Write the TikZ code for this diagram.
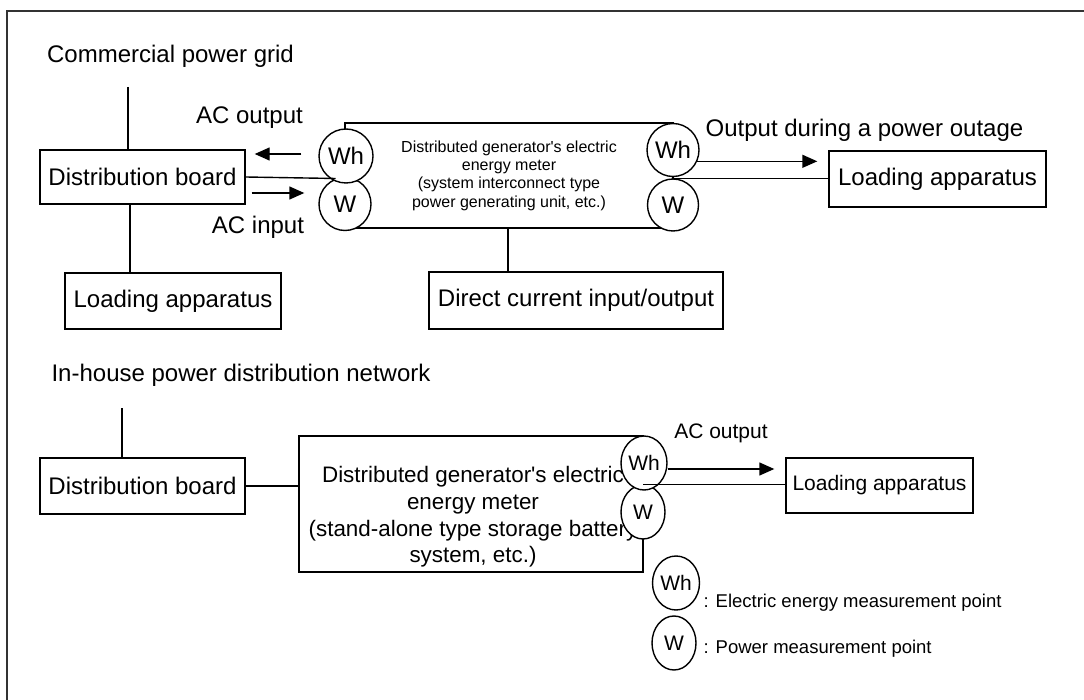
\documentclass[tikz,border=0pt]{standalone}
\usepackage{fontspec}
\setmainfont{Liberation Sans}
\usetikzlibrary{arrows.meta, shapes.geometric}
\newcommand{\fbig}{\fontsize{24}{26.7}\selectfont}
\newcommand{\fmid}{\fontsize{21}{24}\selectfont}
\newcommand{\fmeter}{\fontsize{22.4}{26.7}\selectfont}
\newcommand{\fleg}{\fontsize{18.5}{22}\selectfont}
\newcommand{\fsmall}{\fontsize{16}{18.3}\selectfont}

\tikzset{
  box/.style={draw, rectangle, inner sep=0pt, font=\fbig},
  mpoint/.style={draw, ellipse, fill=white, inner sep=0pt,
    minimum width=54pt, minimum height=54pt, font=\fbig},
  mpointsm/.style={mpoint, minimum width=46pt, font=\fmid},
  arr/.style={-{Triangle[length=15pt, width=13pt]}},
}

\begin{document}
\begin{tikzpicture}[x=1pt, y=-1pt, line width=1.4pt]

  \useasboundingbox (0,0) rectangle (1084,700);
  \draw[black!80, line width=2pt] (7,700) -- (7,11) -- (1084,11);

  % system interconnect type
  \node[font=\fbig] (grid) at (170.5,56) {Commercial power grid};
  \coordinate (gridend) at (128,87);
  \node[box, minimum width=205pt, minimum height=54pt] (board1) at (142.5,177) {Distribution board};
  \node[box, minimum width=216pt, minimum height=56pt] (load1) at (173,301) {Loading apparatus};
  \node[box, minimum width=328pt, minimum height=105pt, align=center, font=\fsmall] (meter1) at (509,175.5)
    {Distributed generator\textquotesingle s electric\\energy meter\\(system interconnect type\\power generating unit, etc.)};
  \node[mpoint, minimum width=52pt, minimum height=53pt] (wL) at (345,204) {W};
  \node[mpoint] (whL) at (346,156) {Wh};
  \node[mpoint, minimum width=51pt, minimum height=52pt] (wR) at (673,205) {W};
  \node[mpoint, minimum width=52pt, minimum height=53pt] (whR) at (673,150) {Wh};
  \node[box, minimum width=217pt, minimum height=56pt] (load2) at (937.5,179) {Loading apparatus};
  \node[box, minimum width=294pt, minimum height=57pt] (dc) at (576,300.5) {Direct current input/output};

  \node[font=\fbig] (acout1) at (249.5,118) {AC output};
  \node[font=\fbig] (acin1) at (258,227) {AC input};
  \node[font=\fbig, anchor=west, inner sep=0pt] (outage) at (705,130) {Output during a power outage};

  \draw (gridend) -- (gridend |- board1.north);
  \draw ([xshift=-12.5pt]board1.south) -- ([xshift=-12.5pt]board1.south |- load1.north);
  \draw (board1.east) -- (wL.110);
  \draw[arr] ([xshift=-17pt, yshift=2pt]whL.west) -- ([xshift=9pt, yshift=2pt]board1.east |- whL.west);
  \draw[arr] ([xshift=6pt, yshift=-16pt]board1.east) -- ([xshift=-14pt, yshift=-16pt]board1.east -| wL.west);
  \draw[arr] (whR.-25) -- ([xshift=-11pt]load2.west |- whR.-25);
  \draw (wR.north) -- (wR.north -| load2.west);
  \draw ([xshift=-1pt]meter1.south) -- ([xshift=-1pt]meter1.south |- dc.north);

  % stand-alone type
  \node[font=\fbig] (house) at (241,375) {In-house power distribution network};
  \coordinate (houseend) at (122,408);
  \node[box, minimum width=205pt, minimum height=56pt] (board2) at (142.5,486) {Distribution board};
  \node[box, minimum width=344pt, minimum height=136pt] (meter2) at (471,504) {};
  \node[font=\fmeter, align=center] (meter2txt) at (473,517)
    {Distributed generator\textquotesingle s electric\\energy meter\\(stand-alone type storage battery\\system, etc.)};
  \node[mpointsm, minimum width=44pt] (wB) at (643,512) {W};
  \node[mpointsm] (whB) at (644,463) {Wh};
  \node[box, minimum width=187pt, minimum height=55pt, font=\fmid] (load3) at (879.5,485.5) {Loading apparatus};
  \node[font=\fmid] (acout2) at (721,433) {AC output};

  \draw (houseend) -- (houseend |- board2.north);
  \draw (board2.east) -- (board2.east -| meter2.west);
  \draw[arr] ([yshift=-6pt]whB.east) -- ([xshift=-11pt, yshift=-6pt]whB.east -| load3.west);
  \draw (wB.north) -- (wB.north -| load3.west);

  % legend
  \node[mpointsm, minimum width=47pt] (whLeg) at (676,583) {Wh};
  \node[mpointsm, minimum width=44pt] (wLeg) at (674,643) {W};
  \node[font=\fleg, anchor=west, inner sep=0pt] (whLegtxt) at (703,603) {: Electric energy measurement point};
  \node[font=\fleg, anchor=west, inner sep=0pt] (wLegtxt) at (703,649) {: Power measurement point};

\end{tikzpicture}
\end{document}
